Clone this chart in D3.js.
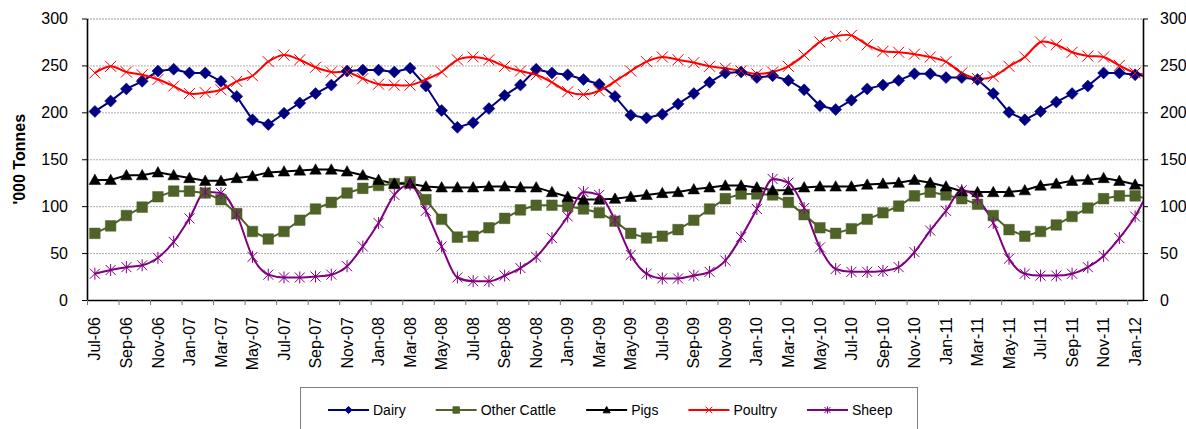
<!DOCTYPE html>
<html>
<head>
<meta charset="utf-8">
<script src="https://cdn.jsdelivr.net/npm/d3@7"></script>
<style>
  body { margin: 0; background: #fff; }
  text { font-family: "Liberation Sans", Arial, sans-serif; }
</style>
</head>
<body>
<div id="chart"></div>
<script>
// data: monthly figures, '000 tonnes (last month only shows as the line leaving the plot)
const months = ["Jul-06","Aug-06","Sep-06","Oct-06","Nov-06","Dec-06",
  "Jan-07","Feb-07","Mar-07","Apr-07","May-07","Jun-07","Jul-07","Aug-07","Sep-07","Oct-07","Nov-07","Dec-07",
  "Jan-08","Feb-08","Mar-08","Apr-08","May-08","Jun-08","Jul-08","Aug-08","Sep-08","Oct-08","Nov-08","Dec-08",
  "Jan-09","Feb-09","Mar-09","Apr-09","May-09","Jun-09","Jul-09","Aug-09","Sep-09","Oct-09","Nov-09","Dec-09",
  "Jan-10","Feb-10","Mar-10","Apr-10","May-10","Jun-10","Jul-10","Aug-10","Sep-10","Oct-10","Nov-10","Dec-10",
  "Jan-11","Feb-11","Mar-11","Apr-11","May-11","Jun-11","Jul-11","Aug-11","Sep-11","Oct-11","Nov-11","Dec-11",
  "Jan-12","Feb-12"]
const shownMonths = 67

const dairy = [201,212,225,233,244,246, 242,242,233,217,192,187,199,210,220,229,244,245,
  245,243,247,228,202,184,189,204,218,229,246,242, 240,235,230,217,197,194,198,209,220,232,242,243,
  237,239,234,224,207,203,213,225,229,234,241,241, 237,237,235,220,200,192,201,211,220,228,242,242, 240,238]
const otherCattle = [71,79,90,99,110,116, 116,114,107,92,73,65,73,85,97,104,114,119,
  122,124,126,107,86,67,68,77,87,96,101,101, 100,97,93,84,71,66,68,75,85,97,108,113,
  113,112,104,91,77,71,76,86,93,100,111,115, 112,108,102,90,75,68,73,80,89,98,108,111, 111,107]
const pigs = [128,128,133,133,136,133, 130,127,127,130,132,136,137,138,139,139,137,133,
  128,124,124,121,120,120,120,121,121,120,120,115, 110,107,107,108,110,112,114,115,118,120,122,122,
  120,117,117,120,121,121,121,123,124,125,128,125, 121,116,115,115,115,117,122,124,127,128,130,127, 123,121]
const poultry = [242,249,243,240,235,228, 220,221,224,233,239,254,261,256,248,243,243,236,
  230,229,229,235,243,256,259,256,249,244,240,232, 222,219,223,233,244,254,259,256,253,249,247,244,
  241,243,249,261,275,281,282,272,265,264,262,259, 254,242,236,238,249,259,275,272,264,260,259,250, 242,240]
const sheep = [28,32,35,37,45,62, 87,115,114,91,46,27,24,24,25,27,36,57,
  82,112,123,95,57,24,20,20,26,34,46,66, 89,115,112,85,48,28,23,23,26,30,42,67,
  97,129,125,98,56,33,30,30,31,35,51,74, 95,117,108,82,44,28,26,26,28,35,47,66, 89,122]

const seriesNames = ["Dairy","Other Cattle","Pigs","Poultry","Sheep"]
const seriesValues = [dairy, otherCattle, pigs, poultry, sheep]
const yTicks = [0,50,100,150,200,250,300]

// styles
const colors = ["#000080","#4F6228","#000000","#FF0000","#800080"]
const markers = ["diamond","square","triangle","times","star"]
const curves = [d3.curveLinear, d3.curveLinear, d3.curveLinear, d3.curveCardinal.tension(0), d3.curveMonotoneX]

const width = 1186
const height = 429
const margin = { top: 18.5, bottom: 129, left: 87, right: 43 }
const innerW = width - margin.left - margin.right
const innerH = height - margin.top - margin.bottom

const svg = d3.select("div#chart").append("svg").attr("width", width).attr("height", height)
svg.append("defs").append("clipPath").attr("id", "plotClip")
  .append("rect").attr("width", innerW).attr("height", innerH + 2).attr("y", -1)

const g = svg.append("g").attr("transform", `translate(${margin.left}, ${margin.top})`)

// category boundaries at integers, points at the middle of each month
const x = d3.scaleLinear().domain([0, shownMonths]).range([0, innerW])
const cx = i => x(i + 0.5)
const y = d3.scaleLinear().domain([0, 300]).range([innerH, 0])

// grid
const grid = g.append("g").attr("class", "grid")
  .call(d3.axisLeft(y).tickValues(yTicks).tickSize(-innerW).tickFormat(""))
grid.select(".domain").remove()
grid.selectAll("line").attr("stroke-width", 0.8)
  .attr("stroke-dasharray", d => d === 0 ? null : "2,1")
  .attr("stroke", d => d === 300 ? "#808080" : "#9a9a9a")

// y axes
const yLeft = g.append("g").call(d3.axisLeft(y).tickValues(yTicks).tickSize(5).tickPadding(14).tickSizeOuter(0))
const yRight = g.append("g").attr("transform", `translate(${innerW},0)`)
  .call(d3.axisRight(y).tickValues(yTicks).tickSize(5).tickPadding(12).tickSizeOuter(0))
;[yLeft, yRight].forEach(a => {
  a.select(".domain").attr("stroke", "#000").attr("stroke-width", 1.6)
  a.selectAll("line").attr("stroke", "#000")
  a.selectAll("text").attr("font-size", 16).attr("fill", "#000")
    .style("font-family", '"Liberation Sans", Arial, sans-serif')
})

// x axis
const xAxis = g.append("g").attr("transform", `translate(0,${innerH})`)
  .call(d3.axisBottom(x).tickValues(d3.range(0, shownMonths, 2)).tickSize(5).tickFormat("").tickSizeOuter(0))
xAxis.select(".domain").attr("stroke", "#000").attr("stroke-width", 1.6)
xAxis.selectAll("line").attr("stroke", "#777")

g.append("g").selectAll("text")
  .data(months.slice(0, shownMonths).map((m, i) => ({ m, i })).filter(d => d.i % 2 === 0))
  .join("text")
  .attr("transform", d => `translate(${cx(d.i)},${innerH + 17}) rotate(-90)`)
  .attr("text-anchor", "end")
  .attr("dy", "0.35em")
  .attr("font-size", 16)
  .text(d => d.m)

// y label
svg.append("text")
  .attr("transform", `translate(19, ${margin.top + innerH / 2}) rotate(-90)`)
  .attr("text-anchor", "middle")
  .attr("dy", "0.35em")
  .attr("font-size", 16)
  .attr("font-weight", "bold")
  .text("'000 Tonnes")

// marker shapes
function markerPath(type, r) {
  const p = d3.path()
  if (type === "diamond") {
    p.moveTo(0, -r); p.lineTo(r, 0); p.lineTo(0, r); p.lineTo(-r, 0); p.closePath()
  } else if (type === "square") {
    p.rect(-r, -r, 2 * r, 2 * r)
  } else if (type === "triangle") {
    p.moveTo(0, -r); p.lineTo(r, r * 0.8); p.lineTo(-r, r * 0.8); p.closePath()
  } else if (type === "times") {
    p.moveTo(-r, -r); p.lineTo(r, r); p.moveTo(r, -r); p.lineTo(-r, r)
  } else {
    p.moveTo(-r, -r); p.lineTo(r, r); p.moveTo(r, -r); p.lineTo(-r, r)
    p.moveTo(0, -r * 1.2); p.lineTo(0, r * 1.2)
  }
  return p.toString()
}
const filled = t => t === "diamond" || t === "square" || t === "triangle"
const markerSize = { diamond: 6, square: 5.3, triangle: 5.8, times: 5.5, star: 5 }

// lines
const lineGroup = g.append("g").attr("clip-path", "url(#plotClip)")
seriesValues.forEach((vals, s) => {
  const line = d3.line().x((d, i) => cx(i)).y(d => y(d)).curve(curves[s])
  lineGroup.append("path").datum(vals)
    .attr("fill", "none").attr("stroke", colors[s]).attr("stroke-width", 2)
    .attr("d", line)
})
seriesValues.forEach((vals, s) => {
  const t = markers[s]
  lineGroup.append("g").selectAll("path")
    .data(vals.slice(0, shownMonths))
    .join("path")
    .attr("transform", (d, i) => `translate(${cx(i)},${y(d)})`)
    .attr("d", markerPath(t, markerSize[t]))
    .attr("fill", filled(t) ? colors[s] : "none")
    .attr("stroke", colors[s])
    .attr("stroke-width", filled(t) ? 0.5 : 1)
})

// legend
const legend = svg.append("g")
legend.append("rect").attr("x", 300.5).attr("y", 387.5).attr("width", 617).attr("height", 60)
  .attr("fill", "#fff").attr("stroke", "#808080")
let lx = 328
seriesNames.forEach((name, s) => {
  const item = legend.append("g").attr("transform", `translate(${lx},410)`)
  item.append("line").attr("x1", 0).attr("x2", 41).attr("stroke", colors[s]).attr("stroke-width", 2)
  const t = markers[s]
  item.append("path").attr("transform", "translate(20.5,0)")
    .attr("d", markerPath(t, markerSize[t] * 0.6))
    .attr("fill", filled(t) ? colors[s] : "none").attr("stroke", colors[s]).attr("stroke-width", 1)
  const txt = item.append("text").attr("x", 45).attr("dy", "0.35em").attr("font-size", 14).text(name)
  lx += 45 + txt.node().getComputedTextLength() + 30
})
</script>
</body>
</html>
